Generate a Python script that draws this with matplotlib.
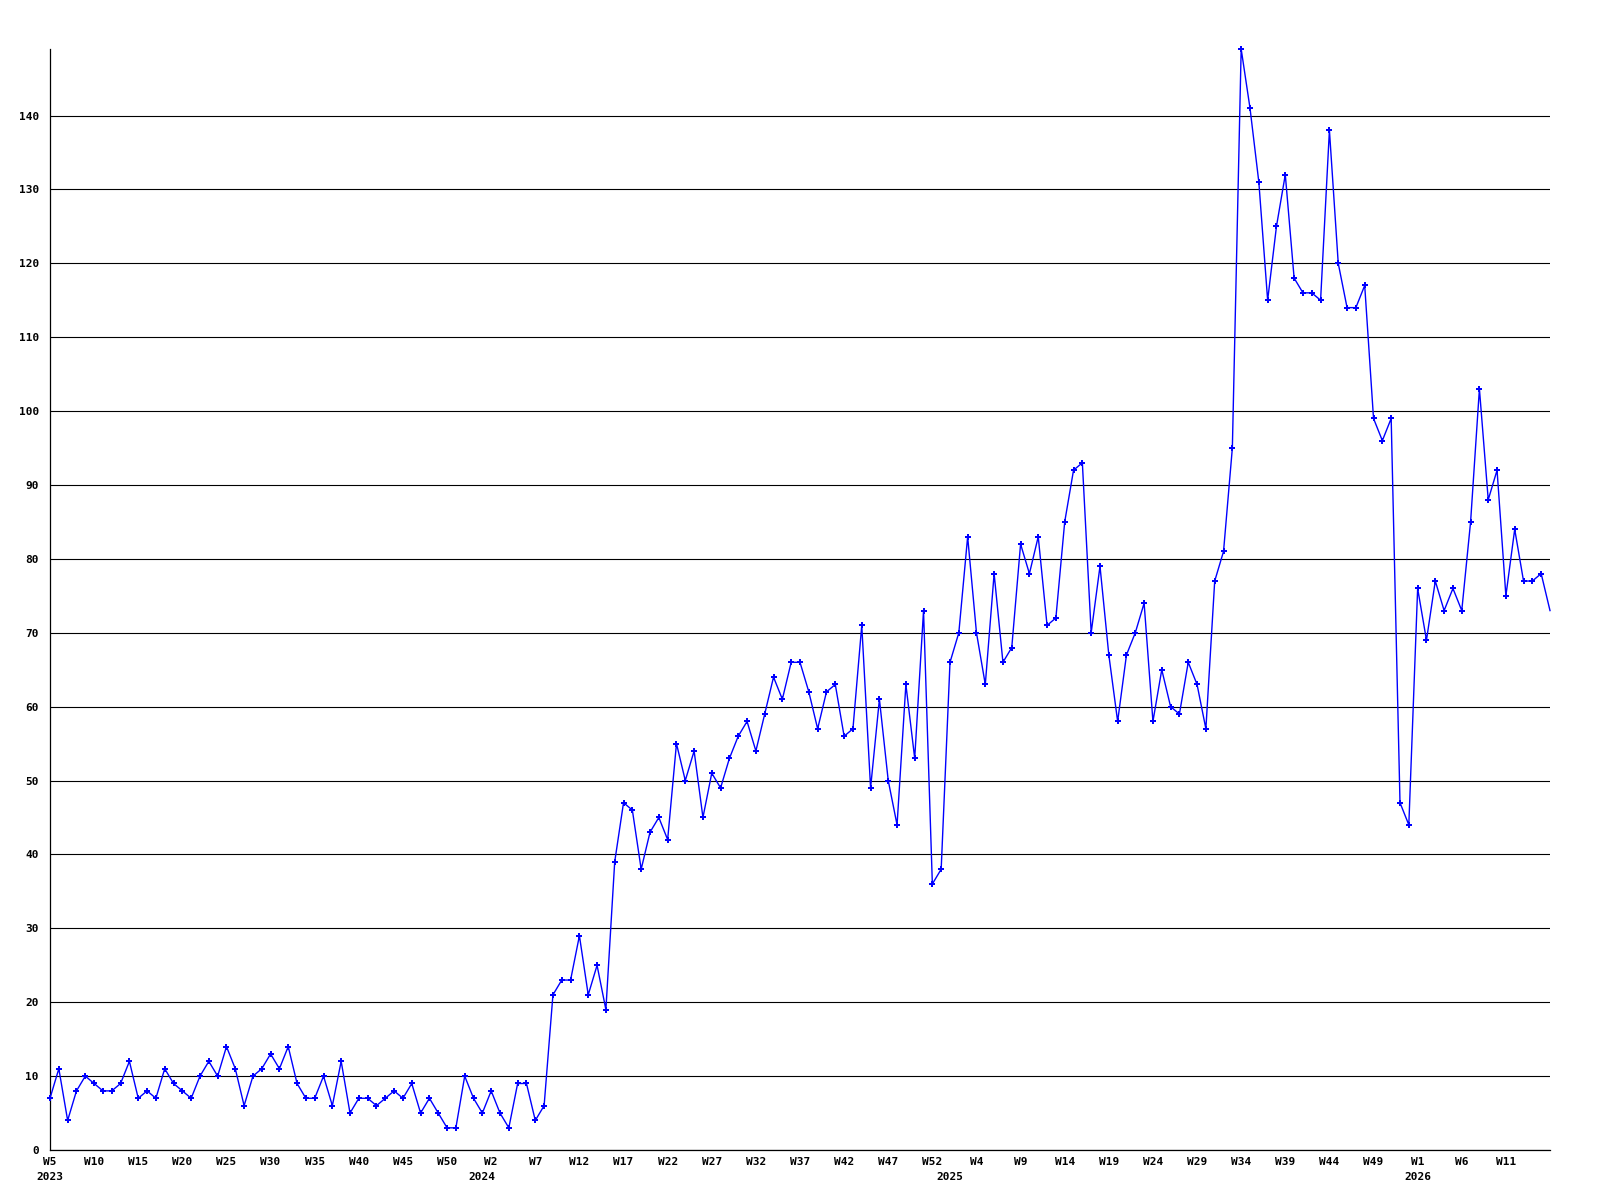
import matplotlib
matplotlib.use("Agg")
import matplotlib.pyplot as plt

# ---- data -------------------------------------------------------------
years = [2023, 2024, 2025, 2026]
first_week = 5          # series starts at 2023 W5
weeks_per_year = 53     # week numbering used by the chart (W1..W53)
last_week = 16          # series ends at 2026 W16

values = [
    7, 11, 4, 8, 10, 9, 8, 8, 9, 12, 7, 8, 7, 11, 9, 8, 7, 10, 12, 10,
    14, 11, 6, 10, 11, 13, 11, 14, 9, 7, 7, 10, 6, 12, 5, 7, 7, 6, 7, 8,
    7, 9, 5, 7, 5, 3, 3, 10, 7, 5, 8, 5, 3, 9, 9, 4, 6, 21, 23, 23,
    29, 21, 25, 19, 39, 47, 46, 38, 43, 45, 42, 55, 50, 54, 45, 51, 49, 53, 56, 58,
    54, 59, 64, 61, 66, 66, 62, 57, 62, 63, 56, 57, 71, 49, 61, 50, 44, 63, 53, 73,
    36, 38, 66, 70, 83, 70, 63, 78, 66, 68, 82, 78, 83, 71, 72, 85, 92, 93, 70, 79,
    67, 58, 67, 70, 74, 58, 65, 60, 59, 66, 63, 57, 77, 81, 95, 149, 141, 131, 115, 125,
    132, 118, 116, 116, 115, 138, 120, 114, 114, 117, 99, 96, 99, 47, 44, 76, 69, 77, 73, 76,
    73, 85, 103, 88, 92, 75, 84, 77, 77, 78, 73,
]

y_ticks = list(range(0, 141, 10))

# ---- derived week labels --------------------------------------------
week_labels = []
year_starts = []
for y in years:
    start = first_week if y == years[0] else 1
    end = last_week if y == years[-1] else weeks_per_year
    year_starts.append((len(week_labels), str(y)))
    for w in range(start, end + 1):
        week_labels.append(f"W{w}")

n = len(values)
xs = list(range(n))
tick_pos = list(range(0, n - 1, 5))
tick_lab = [week_labels[i] for i in tick_pos]

# ---- figure -----------------------------------------------------------
fig = plt.figure(figsize=(16, 12), dpi=100)
ax = fig.add_axes([50 / 1600, 1 - 1150 / 1200, 1500 / 1600, (1150 - 49) / 1200])

font = dict(family="DejaVu Sans Mono", weight="bold", size=8)

ax.plot(xs, values, color="#0000FF", linewidth=1.0, marker="P",
        markersize=4, markeredgewidth=0, markevery=list(range(n - 1)),
        zorder=3, clip_on=False)

ax.set_xlim(0, n - 1)
ax.set_ylim(0, 149)

ax.set_yticks(y_ticks)
ax.set_yticklabels([str(v) for v in y_ticks], fontdict=font)
ax.set_xticks(tick_pos)
ax.set_xticklabels(tick_lab, fontdict=font)
ax.tick_params(axis="y", length=0, pad=8)
ax.tick_params(axis="x", length=0, pad=5)

ax.grid(axis="y", color="black", linewidth=0.8, zorder=1)
ax.set_axisbelow(True)

for s in ["top", "right"]:
    ax.spines[s].set_visible(False)
for s in ["left", "bottom"]:
    ax.spines[s].set_color("black")
    ax.spines[s].set_linewidth(0.9)

for pos, lab in year_starts:
    ax.text(pos, -0.0245, lab, transform=ax.get_xaxis_transform(),
            ha="center", va="center", **font)

fig.savefig("out.png", dpi=100, facecolor="white")
